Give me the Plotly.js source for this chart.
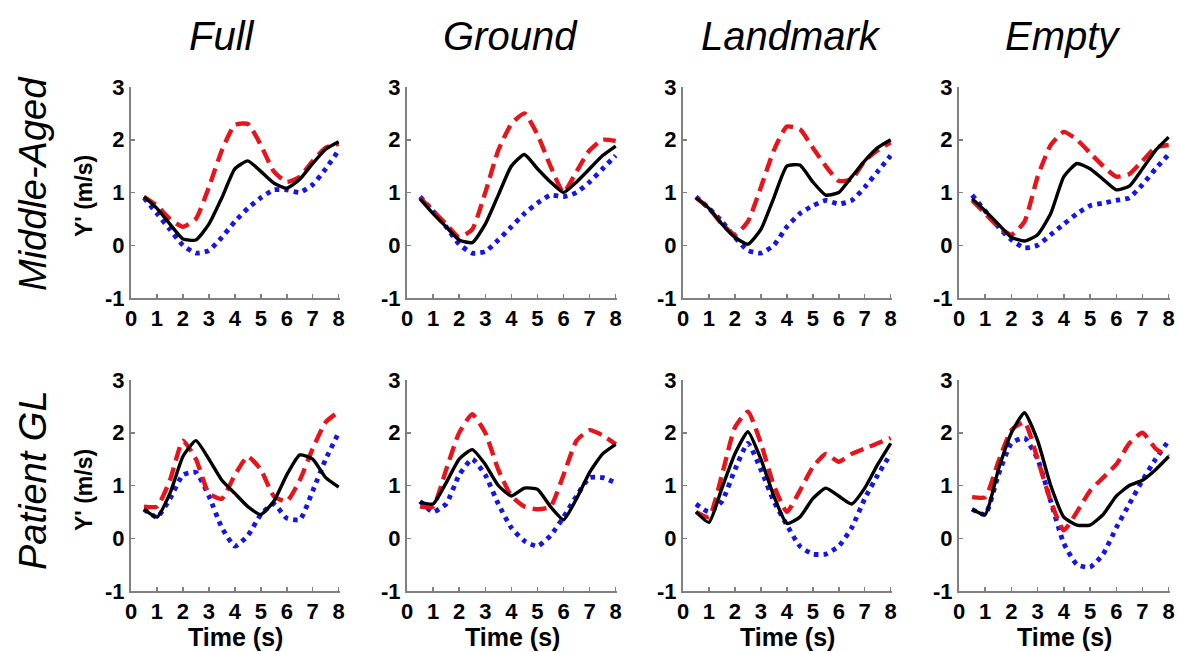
<!DOCTYPE html>
<html>
<head>
<meta charset="utf-8">
<script src="https://cdn.plot.ly/plotly-3.0.1.min.js"></script>
<style>html,body{margin:0;padding:0;background:#fff;}#chart{width:1177px;height:652px;}</style>
</head>
<body>
<div id="chart"></div>
<script>
// Time samples (s)
const time = [0.5,1,1.5,2,2.5,3,3.5,4,4.5,5,5.5,6,6.5,7,7.5,8];

const conditions = ["Full","Ground","Landmark","Empty"];
const groups = ["Middle-Aged","Patient GL"];
const xTickVals = [0,1,2,3,4,5,6,7,8];
const yTickVals = [-1,0,1,2,3];

// Middle-Aged
const maFullBlack = [0.92,0.7,0.4,0.12,0.1,0.4,0.9,1.45,1.6,1.4,1.18,1.08,1.25,1.55,1.82,1.96];
const maFullRed   = [0.92,0.75,0.5,0.35,0.5,1.1,1.8,2.28,2.3,1.9,1.4,1.2,1.3,1.6,1.85,1.92];
const maFullBlue  = [0.9,0.6,0.3,0.0,-0.15,-0.1,0.15,0.45,0.7,0.9,1.05,1.05,1.0,1.15,1.45,1.8];

const maGroundBlack = [0.88,0.6,0.35,0.1,0.05,0.4,0.95,1.5,1.72,1.45,1.2,1.0,1.2,1.45,1.7,1.88];
const maGroundRed   = [0.9,0.65,0.4,0.15,0.3,1.0,1.8,2.3,2.5,2.1,1.5,1.0,1.4,1.8,2.0,1.98];
const maGroundBlue  = [0.92,0.65,0.35,0.02,-0.15,-0.12,0.1,0.35,0.6,0.8,0.95,0.92,1.0,1.2,1.45,1.7];

const maLandBlack = [0.9,0.7,0.4,0.15,0.02,0.3,0.9,1.5,1.52,1.2,0.95,1.0,1.3,1.6,1.85,2.0];
const maLandRed   = [0.9,0.7,0.4,0.2,0.45,1.1,1.8,2.25,2.2,1.85,1.5,1.22,1.25,1.6,1.8,1.95];
const maLandBlue  = [0.92,0.7,0.45,0.15,-0.1,-0.15,0.0,0.35,0.6,0.75,0.85,0.78,0.85,1.1,1.4,1.7];

const maEmptyBlack = [0.88,0.65,0.4,0.15,0.08,0.2,0.6,1.3,1.55,1.45,1.25,1.05,1.12,1.45,1.8,2.05];
const maEmptyRed   = [0.85,0.6,0.35,0.2,0.45,1.3,1.9,2.15,2.0,1.75,1.5,1.3,1.35,1.6,1.85,1.9];
const maEmptyBlue  = [0.95,0.65,0.35,0.1,-0.05,0.0,0.2,0.4,0.6,0.75,0.8,0.85,0.9,1.15,1.45,1.72];

// Patient GL
const glFullBlack = [0.55,0.4,0.85,1.55,1.85,1.5,1.1,0.85,0.6,0.45,0.7,1.2,1.58,1.5,1.15,0.97];
const glFullRed   = [0.6,0.6,1.1,1.85,1.5,0.85,0.75,1.2,1.55,1.3,0.8,0.7,1.1,1.7,2.2,2.4];
const glFullBlue  = [0.55,0.4,0.75,1.2,1.25,0.8,0.2,-0.15,0.05,0.45,0.65,0.38,0.35,0.9,1.5,2.0];

const glGroundBlack = [0.68,0.65,1.05,1.5,1.68,1.4,1.0,0.8,0.95,0.93,0.6,0.35,0.75,1.25,1.6,1.78];
const glGroundRed   = [0.6,0.6,1.3,2.0,2.35,2.0,1.3,0.8,0.6,0.55,0.6,1.2,1.85,2.05,1.95,1.78];
const glGroundBlue  = [0.7,0.5,0.65,1.2,1.5,1.2,0.65,0.2,-0.05,-0.15,0.05,0.4,0.8,1.15,1.15,1.05];

const glLandBlack = [0.5,0.3,0.95,1.6,2.02,1.5,0.8,0.28,0.4,0.75,0.95,0.8,0.65,0.95,1.4,1.8];
const glLandRed   = [0.5,0.4,1.2,2.1,2.4,1.8,1.0,0.5,0.9,1.35,1.6,1.45,1.6,1.7,1.8,1.9];
const glLandBlue  = [0.65,0.5,0.7,1.3,1.8,1.3,0.7,0.25,-0.15,-0.3,-0.3,-0.15,0.2,0.75,1.2,1.6];

const glEmptyBlack = [0.55,0.45,1.3,2.0,2.38,1.85,1.0,0.4,0.25,0.25,0.45,0.8,1.0,1.1,1.3,1.55];
const glEmptyRed   = [0.78,0.78,1.45,2.05,2.2,1.5,0.7,0.15,0.5,0.9,1.15,1.4,1.8,2.0,1.7,1.55];
const glEmptyBlue  = [0.55,0.45,1.2,1.8,1.9,1.5,0.7,-0.1,-0.5,-0.55,-0.3,0.2,0.65,1.1,1.5,1.85];

const panels = [
  [maFullBlack, maFullRed, maFullBlue],
  [maGroundBlack, maGroundRed, maGroundBlue],
  [maLandBlack, maLandRed, maLandBlue],
  [maEmptyBlack, maEmptyRed, maEmptyBlue],
  [glFullBlack, glFullRed, glFullBlue],
  [glGroundBlack, glGroundRed, glGroundBlue],
  [glLandBlack, glLandRed, glLandBlue],
  [glEmptyBlack, glEmptyRed, glEmptyBlue]
];

const W = 1177, H = 652;
const colPx = [[131,340],[407,617],[683,892],[959,1170]];
const rowPx = [[87,298],[380,591]];

const styles = [
  {color:'#000000', width:3.4, dash:'solid'},
  {color:'#e8141c', width:4.4, dash:'14px,7px'},
  {color:'#1515e6', width:4.8, dash:'4.5px,5px'}
];
const drawOrder = [2,1,0];

const traces = [];
const layout = {
  width: W, height: H,
  margin: {l:0, r:0, t:0, b:0},
  paper_bgcolor: '#ffffff',
  plot_bgcolor: '#ffffff',
  showlegend: false,
  annotations: []
};

const tickFont = {family:'Liberation Sans, Arial, sans-serif', size:22, color:'#000', weight:'bold'};

panels.forEach((p, i) => {
  const n = i + 1;
  const r = Math.floor(i / 4), c = i % 4;
  const xa = n === 1 ? 'x' : 'x' + n;
  const ya = n === 1 ? 'y' : 'y' + n;
  drawOrder.forEach(k => {
    traces.push({
      type: 'scatter', mode: 'lines',
      x: time, y: p[k], xaxis: xa, yaxis: ya,
      line: {color: styles[k].color, width: styles[k].width, dash: styles[k].dash, shape:'spline', smoothing:0.5},
      hoverinfo: 'skip'
    });
  });
  const xKey = n === 1 ? 'xaxis' : 'xaxis' + n;
  const yKey = n === 1 ? 'yaxis' : 'yaxis' + n;
  layout[xKey] = {
    domain: [colPx[c][0] / W, colPx[c][1] / W],
    anchor: ya,
    range: [0, 8.05],
    tickvals: xTickVals,
    ticktext: xTickVals.map(String),
    ticks: 'inside', ticklen: 4, tickcolor: '#808080', tickwidth: 1.5,
    showline: true, linecolor: '#808080', linewidth: 2,
    showgrid: false, zeroline: false,
    tickfont: tickFont
  };
  layout[yKey] = {
    domain: [1 - rowPx[r][1] / H, 1 - rowPx[r][0] / H],
    anchor: xa,
    range: [-1, 3],
    tickvals: yTickVals,
    ticktext: yTickVals.map(String),
    ticks: 'inside', ticklen: 4, tickcolor: '#808080', tickwidth: 1.5,
    showline: true, linecolor: '#808080', linewidth: 2,
    showgrid: false, zeroline: false,
    tickfont: tickFont
  };
  if (r === 1) {
    layout.annotations.push({
      text: 'Time (s)', xref: 'paper', yref: 'paper',
      x: (colPx[c][0] + colPx[c][1]) / 2 / W, y: 1 - 637 / H,
      xanchor: 'center', yanchor: 'middle', showarrow: false,
      font: {family:'Liberation Sans, Arial, sans-serif', size:25, color:'#000', weight:'bold'}
    });
  }
  if (c === 0) {
    layout.annotations.push({
      text: "Y' (m/s)", xref: 'paper', yref: 'paper',
      x: 84 / W, y: 1 - (r === 0 ? 196 : 490) / H,
      xanchor: 'center', yanchor: 'middle', showarrow: false, textangle: -90,
      font: {family:'Liberation Sans, Arial, sans-serif', size:23, color:'#000', weight:'bold'}
    });
  }
});

// Column titles
const colCenters = [222, 510, 791, 1063];
conditions.forEach((t, c) => {
  layout.annotations.push({
    text: t, xref: 'paper', yref: 'paper',
    x: colCenters[c] / W, y: 1 - 36 / H,
    xanchor: 'center', yanchor: 'middle', showarrow: false,
    font: {family:'Liberation Sans, Arial, sans-serif', size:40, color:'#000', style:'italic'}
  });
});
// Row labels
const rowCenters = [184, 480];
groups.forEach((t, r) => {
  layout.annotations.push({
    text: t, xref: 'paper', yref: 'paper',
    x: 33 / W, y: 1 - rowCenters[r] / H,
    xanchor: 'center', yanchor: 'middle', showarrow: false, textangle: -90,
    font: {family:'Liberation Sans, Arial, sans-serif', size:38, color:'#000', style:'italic'}
  });
});

Plotly.newPlot('chart', traces, layout, {staticPlot: true, displayModeBar: false});
</script>
</body>
</html>
